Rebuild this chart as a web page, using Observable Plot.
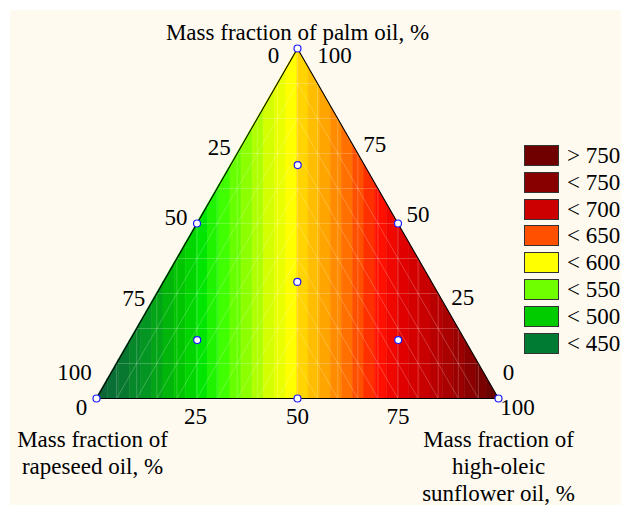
<!DOCTYPE html>
<html><head><meta charset="utf-8">
<script src="https://cdn.jsdelivr.net/npm/d3@7"></script>
<script src="https://cdn.jsdelivr.net/npm/@observablehq/plot@0.6"></script>
<style>
body{margin:0;background:#fff;}
#wrap{position:relative;width:621px;height:508px;background:#fff;font-family:"Liberation Serif","Times New Roman",serif;overflow:hidden;}
#bg{position:absolute;left:10px;top:10px;width:611px;height:495px;background:#fefaf0;}
#chart{position:absolute;left:0;top:0;}
.row{position:absolute;left:524px;height:21px;display:flex;align-items:center;}
.sw{width:35px;height:21px;border:1px solid #333;box-sizing:border-box;}
.lb{margin-left:8px;font-size:23px;color:#000;white-space:nowrap;line-height:21px;}
</style>
</head><body>
<div id="wrap"><div id="bg"></div><div id="chart"></div></div>
<script>
// ---- data ----
const bandValues = [430,440,450,460,470,480,490,500,510,520,530,540,550,560,570,580,590,600,
                    610,620,630,640,650,660,670,680,690,700,710,720,730,740,750,760,770,780];
const legendLabels = ["> 750","< 750","< 700","< 650","< 600","< 550","< 500","< 450"];
const legendColors = ["#700000","#880000","#cc0000","#ff5000","#ffff00","#70ff00","#00cc00","#007b33"];
const tickValues = [0,25,50,75,100];
const tickLabels = ["0","25","50","75","100"];
const designPalm      = [100, 66.7, 50, 50, 33.3, 16.7, 16.7, 0, 0, 0];
const designRapeseed  = [0, 16.7, 50, 0, 33.3, 66.7, 16.7, 100, 50, 0];
const designSunflower = [0, 16.7, 0, 50, 33.3, 16.7, 66.7, 0, 50, 100];
const titleTop = "Mass fraction of palm oil, %";
const titleLeft = ["Mass fraction of","rapeseed oil, %"];
const titleRight = ["Mass fraction of","high-oleic","sunflower oil, %"];

// ---- colour scale config ----
const colorStops = [430,450,470,500,520,540,550,580,600,610,630,650,660,670,680,700,720,750,780];
const colorRange = ["#0c6638","#08772f","#049622","#00c400","#00e600","#40ff00","#68ff00","#d4ff00","#ffff00",
                    "#ffd400","#ffa500","#ff7000","#ff5000","#ff3000","#ff1000","#e00000","#c80000","#9a0000","#6a0000"];

// ---- geometry helpers ----
const S3 = Math.sqrt(3)/2, R3 = Math.sqrt(3);
const topY = x => Math.min(x, 100-x)*R3;
const ux = px => px*100/402;            // px -> x units
const uy = py => -py*(100*S3)/350;      // px (down) -> y units
const X = px => (px-96)*100/402;
const Y = py => (398-py)*(100*S3)/350;

const nb = bandValues.length;
const bandRows = [];
bandValues.forEach((v,i)=>{
  const x0 = i*100/nb, x1 = (i+1)*100/nb;
  bandRows.push({band:i, x:x0, y:topY(x0), v});
  bandRows.push({band:i, x:x1, y:topY(x1), v});
});

// faint mesh
const mesh = [];
for (let p=10;p<100;p+=10) mesh.push({x1:p/2,y1:p*S3,x2:100-p/2,y2:p*S3});
for (let x=5;x<100;x+=5) mesh.push({x1:x,y1:0,x2:x,y2:topY(x)});
for (let c=5;c<50;c+=5){
  mesh.push({x1:c,y1:0,x2:50,y2:(50-c)*R3});
  mesh.push({x1:100-c,y1:0,x2:50,y2:(50-c)*R3});
}

// tick labels with pixel offsets
const leftOff  = [[-24,7],[-28,12],[-21,-6],[-13,-12.5],[-22,-26]];
const rightOff = [[10,-26],[14.5,-13.5],[20,-9],[27,9],[37,7]];
const botOff   = [[-15,9],[-1.5,18],[0,18],[0,18],[19,9]];
const ticks = [];
tickValues.forEach((t,i)=>{
  ticks.push({text:tickLabels[i], x:(100-t)/2 + ux(leftOff[i][0]), y:(100-t)*S3 + uy(leftOff[i][1])});
  ticks.push({text:tickLabels[i], x:100-t/2 + ux(rightOff[i][0]), y:t*S3 + uy(rightOff[i][1])});
  ticks.push({text:tickLabels[i], x:t + ux(botOff[i][0]), y:0 + uy(botOff[i][1])});
});

const titles = [{text:titleTop, x:X(297), y:Y(32)}];
titleLeft.forEach((t,i)=>titles.push({text:t, x:X(92), y:Y(439+i*27)}));
titleRight.forEach((t,i)=>titles.push({text:t, x:X(498), y:Y(439+i*27)}));

const design = designPalm.map((p,i)=>({x:designSunflower[i]+p/2, y:p*S3}));

const chart = Plot.plot({
  width:621, height:508,
  marginLeft:96, marginRight:123, marginTop:48, marginBottom:110,
  x:{domain:[0,100], axis:null},
  y:{domain:[0,100*S3], axis:null},
  color:{type:"linear", domain:colorStops, range:colorRange, interpolate:"rgb"},
  style:{background:"transparent", fontFamily:"'Liberation Serif','Times New Roman',serif"},
  marks:[
    Plot.areaY(bandRows,{x:"x", y1:0, y2:"y", z:"band", fill:"v", stroke:"v", strokeWidth:0.6}),
    Plot.link(mesh,{x1:"x1",y1:"y1",x2:"x2",y2:"y2", stroke:"white", strokeOpacity:0.22, strokeWidth:1}),
    Plot.line([[0,0],[100,0],[50,100*S3],[0,0]],{stroke:"black", strokeWidth:1.1}),
    Plot.dot(design,{x:"x", y:"y", r:3.5, fill:"white", stroke:"#1a1aff", strokeWidth:1.2}),
    Plot.text(ticks,{x:"x", y:"y", text:"text", fontSize:23, fill:"#000"}),
    Plot.text(titles,{x:"x", y:"y", text:"text", fontSize:23, fill:"#000"})
  ]
});
document.getElementById("chart").appendChild(chart);

const wrap = document.getElementById("wrap");
legendLabels.forEach((l,i)=>{
  const row = document.createElement("div");
  row.className = "row";
  row.style.top = (145 + i*26.8) + "px";
  row.innerHTML = `<div class="sw" style="background:${legendColors[i]}"></div><div class="lb">${l.replace("<","&lt;").replace(">","&gt;")}</div>`;
  wrap.appendChild(row);
});
</script>
</body></html>
